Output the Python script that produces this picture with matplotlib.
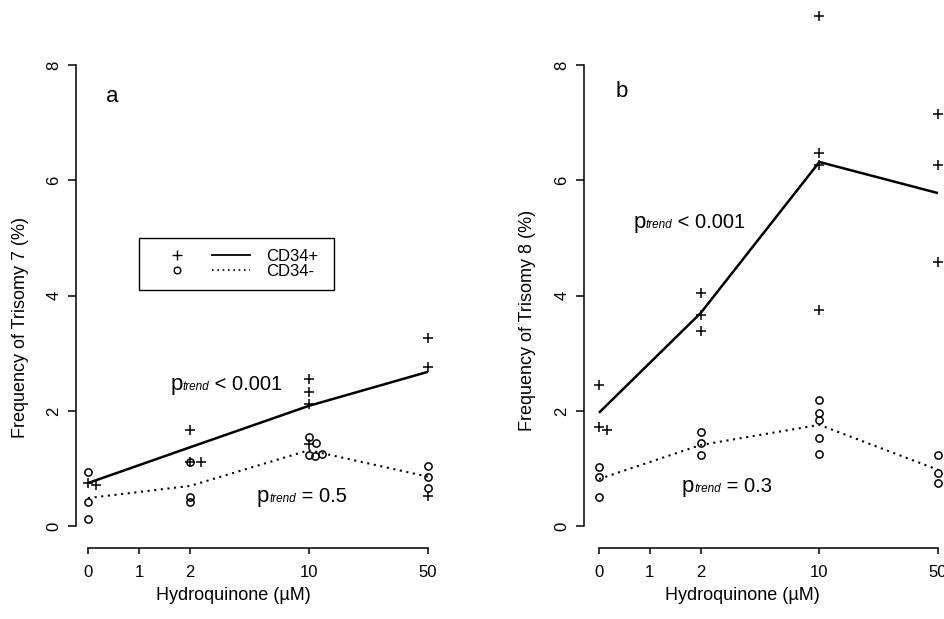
import matplotlib
matplotlib.use("Agg")
import matplotlib.pyplot as plt
from matplotlib.lines import Line2D
from matplotlib.legend_handler import HandlerTuple
from matplotlib.patches import Rectangle

plt.rcParams['font.family'] = ['Liberation Sans', 'DejaVu Sans']

# ---------------- data ----------------
dose_labels = ["0", "1", "2", "10", "50"]
dose_pos = [0, 1, 2, 13 / 3, 20 / 3]
line_doses = ["0", "2", "10", "50"]
y_ticks = [0, 2, 4, 6, 8]

# Panel a: trisomy 7
a_plus_dose = ["0", "0", "2", "2", "2", "10", "10", "10", "10", "50", "50", "50"]
a_plus_jit = [0, 0.15, 0, 0, 0.21, 0, 0, 0, 0, 0, 0, 0]
a_plus_val = [0.75, 0.72, 1.67, 1.12, 1.12, 2.55, 2.33, 2.13, 1.43, 3.26, 2.77, 0.53]
a_circ_dose = ["0", "0", "0", "2", "2", "2", "10", "10", "10", "10", "10", "50", "50", "50"]
a_circ_jit = [0, 0, 0, 0, 0, 0, 0, 0.13, 0, 0.11, 0.25, 0, 0, 0]
a_circ_val = [0.94, 0.43, 0.13, 1.12, 0.51, 0.43, 1.55, 1.45, 1.24, 1.22, 1.25, 1.05, 0.86, 0.66]
a_line_pos = [0.75, 1.37, 2.09, 2.68]
a_line_neg = [0.49, 0.70, 1.32, 0.86]

# Panel b: trisomy 8
b_plus_dose = ["0", "0", "0", "2", "2", "2", "10", "10", "10", "10", "50", "50", "50"]
b_plus_jit = [0, 0, 0.16, 0, 0, 0, 0, 0, 0, 0, 0, 0, 0]
b_plus_val = [2.45, 1.72, 1.67, 4.04, 3.67, 3.38, 8.86, 6.48, 6.27, 3.76, 7.15, 6.27, 4.59]
b_circ_dose = ["0", "0", "0", "2", "2", "2", "10", "10", "10", "10", "10", "50", "50", "50"]
b_circ_jit = [0] * 14
b_circ_val = [1.03, 0.85, 0.51, 1.64, 1.45, 1.24, 2.19, 1.96, 1.84, 1.54, 1.25, 1.24, 0.93, 0.75]
b_line_pos = [1.97, 3.70, 6.32, 5.78]
b_line_neg = [0.82, 1.41, 1.76, 0.98]

pos = dict(zip(dose_labels, dose_pos))

W, H = 944, 619
fig = plt.figure(figsize=(W / 100, H / 100), dpi=100)

DOT = (0, (1, 2.2))
PLUS_MS, CIRC_MS = 7.5, 5.2


def ptrend(ax, x, y, rest):
    t1 = ax.text(x, y, "p", fontsize=16, va="baseline", ha="left")
    t2 = ax.annotate("trend", xy=(1, y), xycoords=(t1, "data"), fontsize=8.5,
                     style="italic", va="baseline", ha="left")
    ax.annotate(rest, xy=(1, y), xycoords=(t2, "data"), fontsize=14.5,
                va="baseline", ha="left")


def panel(rect, xlim, letter, letter_xy, ylabel, ylab_y,
          pd, pj, pv, cd, cj, cv, lp, ln, texts, legend=False):
    ax = fig.add_axes(rect)
    ax.set_xlim(*xlim)
    ax.set_ylim(-0.382, 9.13)
    for s in ("top", "right"):
        ax.spines[s].set_visible(False)
    ax.spines["left"].set_bounds(0, 8)
    ax.spines["bottom"].set_bounds(dose_pos[0], dose_pos[-1])
    for s in ("left", "bottom"):
        ax.spines[s].set_linewidth(1.1)

    ax.set_xticks(dose_pos)
    ax.set_xticklabels(dose_labels)
    ax.set_yticks(y_ticks)
    ax.set_yticklabels([str(v) for v in y_ticks])
    ax.tick_params(axis="x", length=4.5, width=1.1, pad=7.5, labelsize=12)
    ax.tick_params(axis="y", length=6.0, width=1.1, pad=4.5, labelsize=12,
                   labelrotation=90)
    for lab in ax.get_yticklabels():
        lab.set_va("center")

    lx = [pos[d] for d in line_doses]
    ax.plot(lx, lp, color="black", lw=1.8, solid_capstyle="butt")
    ax.plot(lx, ln, color="black", lw=1.5, linestyle=DOT)

    ax.plot([pos[d] + j for d, j in zip(pd, pj)], pv, linestyle="none",
            marker="+", ms=PLUS_MS, mew=1.1, color="black", clip_on=False)
    ax.plot([pos[d] + j for d, j in zip(cd, cj)], cv, linestyle="none",
            marker="o", ms=CIRC_MS, mew=1.1, mfc="none", mec="black", clip_on=False)

    ax.text(letter_xy[0], letter_xy[1], letter, fontsize=16, ha="center", va="center")
    for (tx, ty, rest) in texts:
        ptrend(ax, tx, ty, rest)

    ax.set_xlabel("Hydroquinone (\u00b5M)", fontsize=13)
    ax.xaxis.set_label_coords(0.432, -0.0852)
    ax.xaxis.label.set_va("center")
    ax.set_ylabel(ylabel, fontsize=13)
    ax.yaxis.set_label_coords(-0.153, ylab_y)
    ax.yaxis.label.set_va("center")

    if legend:
        h_plus = Line2D([], [], linestyle="none", marker="+", ms=PLUS_MS - 0.5,
                        mew=1.0, color="black")
        h_circ = Line2D([], [], linestyle="none", marker="o", ms=CIRC_MS - 0.4,
                        mew=1.0, mfc="none", mec="black")
        h_solid = Line2D([], [], color="black", lw=1.3)
        h_dot = Line2D([], [], color="black", lw=1.2, linestyle=DOT)
        ax.legend([(h_plus, h_solid), (h_circ, h_dot)], ["CD34+", "CD34-"],
                  handler_map={tuple: HandlerTuple(ndivide=None, pad=0.95)},
                  loc="center left", bbox_to_anchor=(0.225, 0.519),
                  frameon=False, fontsize=12, handlelength=5.5,
                  handletextpad=1.0, labelspacing=0.0, borderpad=0,
                  borderaxespad=0)
        ax.add_patch(Rectangle((0.172, 0.471), 0.534, 0.095, transform=ax.transAxes,
                               fill=False, lw=1.0, ec="black", clip_on=False))
    return ax


panel([76 / W, 0.1142, 365.4 / W, 0.8858], (-0.235, 6.93), "a", (0.47, 7.46),
      "Frequency of Trisomy 7 (%)", 0.403,
      a_plus_dose, a_plus_jit, a_plus_val, a_circ_dose, a_circ_jit, a_circ_val,
      a_line_pos, a_line_neg,
      [(1.61, 2.36, " < 0.001"), (3.31, 0.43, " = 0.5")], legend=True)

panel([584 / W, 0.1142, 367.4 / W, 0.8858], (-0.295, 6.93), "b", (0.45, 7.54),
      "Frequency of Trisomy 8 (%)", 0.416,
      b_plus_dose, b_plus_jit, b_plus_val, b_circ_dose, b_circ_jit, b_circ_val,
      b_line_pos, b_line_neg,
      [(0.67, 5.18, " < 0.001"), (1.63, 0.60, " = 0.3")])

fig.savefig("out.png", dpi=100)
